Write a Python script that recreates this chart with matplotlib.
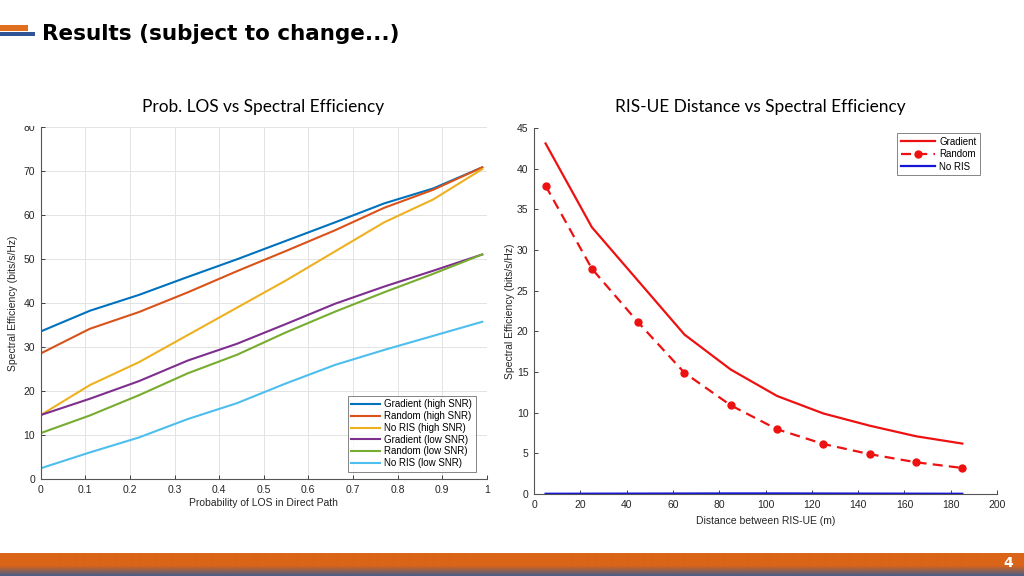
import numpy as np
import matplotlib
matplotlib.use("Agg")
import matplotlib.pyplot as plt
from matplotlib.patches import Rectangle

# ---------------- data ----------------
p_los = [0, 0.11, 0.22, 0.33, 0.44, 0.55, 0.66, 0.77, 0.88, 0.99]
grad_high = [33.6, 38.3, 41.9, 46.0, 50.0, 54.2, 58.4, 62.7, 66.1, 70.9]
rand_high = [28.6, 34.2, 38.0, 42.5, 47.3, 51.9, 56.6, 61.7, 65.8, 70.9]
noris_high = [14.6, 21.4, 26.6, 32.8, 39.0, 45.2, 51.8, 58.4, 63.6, 70.5]
grad_low = [14.6, 18.3, 22.3, 27.0, 30.8, 35.3, 39.9, 43.8, 47.4, 51.1]
rand_low = [10.5, 14.5, 19.1, 24.1, 28.3, 33.4, 38.1, 42.5, 46.7, 51.1]
noris_low = [2.5, 6.1, 9.5, 13.7, 17.3, 21.8, 26.0, 29.4, 32.6, 35.8]
left_labels = ["Gradient (high SNR)", "Random (high SNR)", "No RIS (high SNR)",
               "Gradient (low SNR)", "Random (low SNR)", "No RIS (low SNR)"]

dist = [5, 25, 45, 65, 85, 105, 125, 145, 165, 185]
grad_dist = [43.1, 32.8, 26.2, 19.6, 15.3, 12.05, 9.9, 8.4, 7.1, 6.2]
rand_dist = [37.9, 27.7, 21.1, 14.9, 10.9, 7.96, 6.15, 4.9, 3.9, 3.2]
noris_dist = [0.03, 0.04, 0.05, 0.06, 0.07, 0.07, 0.06, 0.05, 0.04, 0.03]
right_labels = ["Gradient", "Random", "No RIS"]

# ---------------- figure ----------------
W, H = 1024, 576
fig = plt.figure(figsize=(W / 100, H / 100), dpi=100)
fig.patch.set_facecolor("white")

def fx(px):
    return px / W

def fy(py):
    return 1 - py / H

tick_font = "Liberation Sans"
axc = "#262626"

# header decoration
fig.patches.append(Rectangle((fx(0), fy(31)), fx(28), 6 / H, transform=fig.transFigure,
                             facecolor="#E07020", edgecolor="none"))
fig.patches.append(Rectangle((fx(0), fy(35.5)), fx(35), 3.5 / H, transform=fig.transFigure,
                             facecolor="#2F5597", edgecolor="none"))
fig.text(fx(42), fy(34), "Results (subject to change...)", fontsize=15.5, fontweight="bold",
         family="DejaVu Sans", va="center", ha="left", color="black")

# chart titles
fig.text(fx(263), fy(107), "Prob. LOS vs Spectral Efficiency", fontsize=12.4,
         family="Lato", ha="center", va="center", color="black")
fig.text(fx(760), fy(107), "RIS-UE Distance vs Spectral Efficiency", fontsize=12.4,
         family="Lato", ha="center", va="center", color="black")

# ---------------- left chart ----------------
axL = fig.add_axes([fx(40.7), fy(479.3), 446 / W, 352 / H])
cols = ["#0072BD", "#D95319", "#EDB120", "#7E2F8E", "#77AC30", "#4DBEEE"]
series = [grad_high, rand_high, noris_high, grad_low, rand_low, noris_low]
for s, c, lab in zip(series, cols, left_labels):
    axL.plot(p_los, s, color=c, lw=1.5, label=lab)
axL.set_xlim(0, 1)
axL.set_ylim(0, 80)
axL.set_xticks(np.arange(0, 1.01, 0.1))
axL.set_xticklabels(["0", "0.1", "0.2", "0.3", "0.4", "0.5", "0.6", "0.7", "0.8", "0.9", "1"])
axL.set_yticks(np.arange(0, 81, 10))
axL.grid(True, color="#E3E3E3", lw=0.7)
axL.set_axisbelow(True)
axL.spines["top"].set_visible(False)
axL.spines["right"].set_visible(False)
for sp in ["left", "bottom"]:
    axL.spines[sp].set_color("#555555")
    axL.spines[sp].set_linewidth(0.8)
axL.tick_params(direction="in", length=3, width=0.6, colors=axc, labelsize=7.5, pad=4)
for t in axL.get_xticklabels() + axL.get_yticklabels():
    t.set_family(tick_font)
axL.set_xlabel("Probability of LOS in Direct Path", fontsize=7.5, family=tick_font, color=axc, labelpad=2)
axL.set_ylabel("Spectral Efficiency (bits/s/Hz)", fontsize=7.5, family=tick_font, color=axc, labelpad=4)
legL = axL.legend(loc="lower right", bbox_to_anchor=(0.975, 0.022),
                  prop={"family": tick_font, "size": 7}, frameon=True, fancybox=False,
                  edgecolor="#666666", handlelength=3.0, handletextpad=0.4,
                  labelspacing=0.18, borderpad=0.35, borderaxespad=0)
legL.get_frame().set_linewidth(0.7)

# ---------------- right chart ----------------
axR = fig.add_axes([fx(534), fy(494), 463 / W, 366 / H])
red = "#EE1111"
blue = "#1515D8"
axR.plot(dist, grad_dist, color=red, lw=1.6, label=right_labels[0])
axR.plot(dist, rand_dist, color=red, lw=1.6, ls=(0, (4.5, 2.8)), marker="o", ms=5,
         markerfacecolor=red, markeredgecolor=red, label=right_labels[1])
axR.plot(dist, noris_dist, color=blue, lw=1.6, label=right_labels[2])
axR.set_xlim(0, 200)
axR.set_ylim(0, 45)
axR.set_xticks(np.arange(0, 201, 20))
axR.set_yticks(np.arange(0, 46, 5))
axR.spines["top"].set_visible(False)
axR.spines["right"].set_visible(False)
for sp in ["left", "bottom"]:
    axR.spines[sp].set_color("#555555")
    axR.spines[sp].set_linewidth(0.8)
axR.tick_params(direction="in", length=3, width=0.6, colors=axc, labelsize=7.5, pad=4)
for t in axR.get_xticklabels() + axR.get_yticklabels():
    t.set_family(tick_font)
axR.set_xlabel("Distance between RIS-UE (m)", fontsize=7.5, family=tick_font, color=axc, labelpad=5)
axR.set_ylabel("Spectral Efficiency (bits/s/Hz)", fontsize=7.5, family=tick_font, color=axc, labelpad=1)
legR = axR.legend(loc="upper right", bbox_to_anchor=(0.964, 0.987),
                  prop={"family": tick_font, "size": 7}, frameon=True, fancybox=False,
                  edgecolor="#666666", handlelength=3.5, handletextpad=0.4,
                  labelspacing=0.25, borderpad=0.4, borderaxespad=0)
legR.get_frame().set_linewidth(0.7)

# clip top of the left chart image (as in the slide)
fig.patches.append(Rectangle((0, fy(125.5)), fx(110), 14 / H, transform=fig.transFigure,
                             facecolor="white", edgecolor="none", zorder=10))

# ---------------- bottom bar ----------------
axB = fig.add_axes([0, 0, 1, 23.5 / H])
axB.axis("off")
top = np.array([0xDA, 0x64, 0x18]) / 255
bot = np.array([0x4B, 0x5D, 0x85]) / 255
n = 24
grad = np.zeros((n, 2, 3))
for i in range(n):
    if i < 13:
        c = top
    else:
        t = (i - 13) / (n - 14)
        c = top * (1 - t) + bot * t
    grad[i, :, :] = c
axB.imshow(grad, aspect="auto", extent=[0, 1, 0, 1], interpolation="bilinear")
axB.set_xlim(0, 1)
axB.set_ylim(0, 1)
fig.text(fx(1008), fy(563), "4", color="white", fontsize=10, fontweight="bold",
         family="Liberation Sans Narrow", ha="center", va="center")

fig.savefig("out.png", dpi=100)
